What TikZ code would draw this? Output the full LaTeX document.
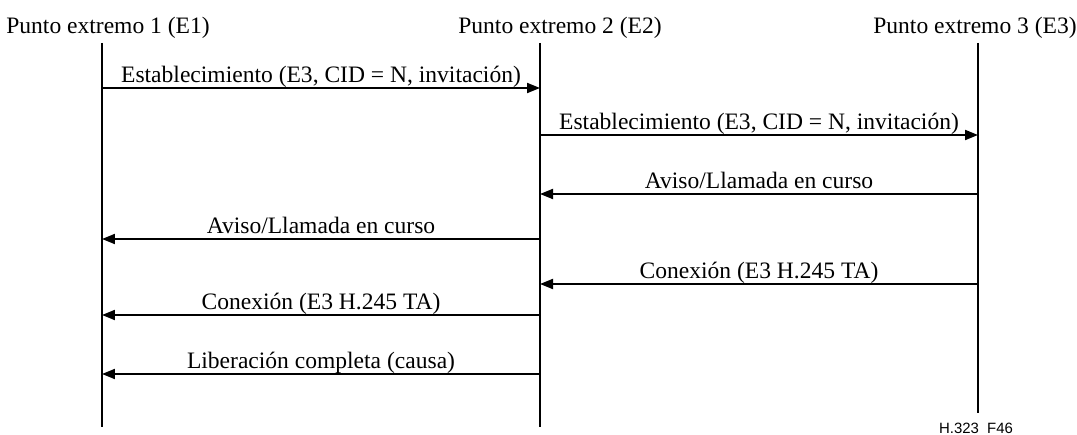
\documentclass[tikz,border=0pt]{standalone}
\usepackage{fontspec}
\setmainfont{Liberation Serif}
\newfontfamily\figsans{Liberation Sans}
\usepackage{tikz}
\usetikzlibrary{arrows.meta,positioning}

\newcommand{\msgfont}{\fontsize{13.4}{16}\selectfont}

\begin{document}
\begin{tikzpicture}[x=0.02cm, y=-0.02cm, every node/.style={font=\msgfont, inner sep=0pt},
  life/.style={line width=1.1pt},
  msg/.style={line width=1.1pt, -{Triangle[length=2.6mm,width=2mm]}},
  msglabel/.style={midway, anchor=base, yshift=0.11cm}]
\useasboundingbox (0,0) rectangle (1077,435);
% Endpoints
\node[anchor=base] (e1) at (108,34) {Punto extremo 1 (E1)};
\node[anchor=base] (e2) at (560,34) {Punto extremo 2 (E2)};
\node[anchor=base] (e3) at (975,34) {Punto extremo 3 (E3)};
\coordinate (e1top) at (102,43);  \coordinate (e1bot) at (102,427);
\coordinate (e2top) at (540,43);  \coordinate (e2bot) at (540,427);
\coordinate (e3top) at (978,43);  \coordinate (e3bot) at (978,413);
\draw[life] (e1top) -- (e1bot);
\draw[life] (e2top) -- (e2bot);
\draw[life] (e3top) -- (e3bot);
% Messages
\coordinate (s1a) at (102,88);  \coordinate (s1b) at (540,88);
\coordinate (s2a) at (540,135); \coordinate (s2b) at (978,135);
\coordinate (a1a) at (978,194); \coordinate (a1b) at (540,194);
\coordinate (a2a) at (540,239); \coordinate (a2b) at (102,239);
\coordinate (c1a) at (978,284); \coordinate (c1b) at (540,284);
\coordinate (c2a) at (540,315); \coordinate (c2b) at (102,315);
\coordinate (r1a) at (540,374); \coordinate (r1b) at (102,374);
\draw[msg] (s1a) -- (s1b) node[msglabel] (s1) {Establecimiento (E3, CID = N, invitación)};
\draw[msg] (s2a) -- (s2b) node[msglabel] (s2) {Establecimiento (E3, CID = N, invitación)};
\draw[msg] (a1a) -- (a1b) node[msglabel] (a1) {Aviso/Llamada en curso};
\draw[msg] (a2a) -- (a2b) node[msglabel] (a2) {Aviso/Llamada en curso};
\draw[msg] (c1a) -- (c1b) node[msglabel] (c1) {Conexión (E3 H.245 TA)};
\draw[msg] (c2a) -- (c2b) node[msglabel] (c2) {Conexión (E3 H.245 TA)};
\draw[msg] (r1a) -- (r1b) node[msglabel] (r1) {Liberación completa (causa)};
% Figure tag
\node[font=\figsans\fontsize{8.5}{10}\selectfont] (tag) at (976,428) {H.323\ \ F46};
\end{tikzpicture}
\end{document}
